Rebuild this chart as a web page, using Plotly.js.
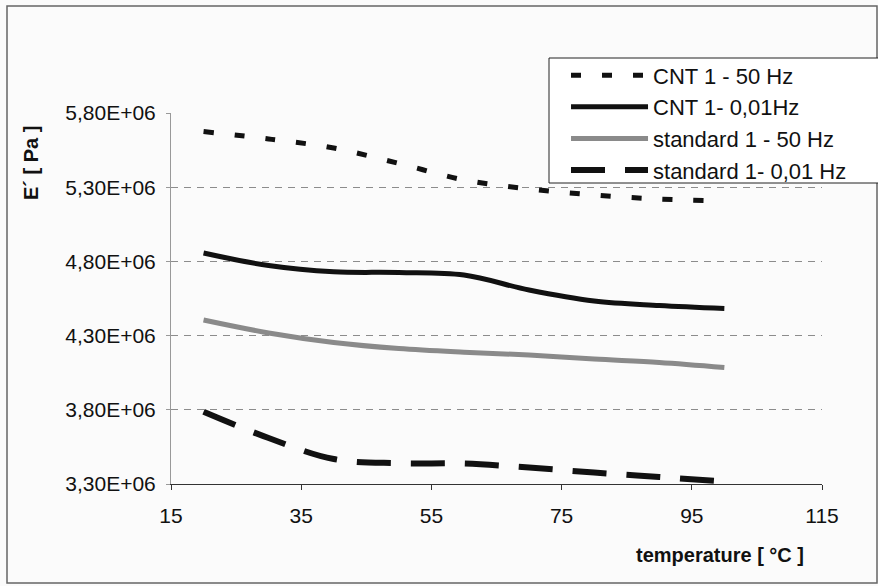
<!DOCTYPE html>
<html>
<head>
<meta charset="utf-8">
<script src="https://cdn.plot.ly/plotly-3.0.1.min.js"></script>
<style>
  html, body { margin: 0; padding: 0; background: #fbfbfb; }
  #chart { width: 878px; height: 586px; }
</style>
</head>
<body>
<div id="chart"></div>
<script>
// ---- data ----
const temperature = [20, 30, 40, 50, 60, 70, 80, 90, 100];
const cnt50Hz   = [5.675e6, 5.625e6, 5.564e6, 5.46e6, 5.349e6, 5.288e6, 5.248e6, 5.22e6, 5.207e6];
const cnt001Hz  = [4.857e6, 4.772e6, 4.73e6, 4.725e6, 4.708e6, 4.607e6, 4.533e6, 4.503e6, 4.483e6];
const std50Hz   = [4.405e6, 4.318e6, 4.254e6, 4.213e6, 4.188e6, 4.169e6, 4.142e6, 4.119e6, 4.085e6];
const std001Hz  = [3.787e6, 3.61e6, 3.468e6, 3.44e6, 3.438e6, 3.411e6, 3.377e6, 3.347e6, 3.317e6];
const seriesNames = ['CNT 1 - 50 Hz', 'CNT 1- 0,01Hz', 'standard 1 - 50 Hz', 'standard 1- 0,01 Hz'];
const xTickVals = [15, 35, 55, 75, 95, 115];
const yTickVals = [3.3e6, 3.8e6, 4.3e6, 4.8e6, 5.3e6, 5.8e6];
const yTickText = ['3,30E+06', '3,80E+06', '4,30E+06', '4,80E+06', '5,30E+06', '5,80E+06'];
const xTitle = 'temperature [ °C ]';
const yTitle = 'E´ [ Pa ]';

const FONT = 'Liberation Sans, Arial, Helvetica, sans-serif';

const traces = [
  { x: temperature, y: cnt50Hz, name: seriesNames[0], mode: 'lines',
    line: { color: '#111', width: 5, dash: '10px,21px', shape: 'spline', smoothing: 1 } },
  { x: temperature, y: cnt001Hz, name: seriesNames[1], mode: 'lines',
    line: { color: '#111', width: 5, shape: 'spline', smoothing: 1 } },
  { x: temperature, y: std50Hz, name: seriesNames[2], mode: 'lines',
    line: { color: '#8a8a8a', width: 5, shape: 'spline', smoothing: 1 } },
  { x: temperature, y: std001Hz, name: seriesNames[3], mode: 'lines',
    line: { color: '#111', width: 6, dash: '34px,20px', shape: 'spline', smoothing: 1 } }
];

const layout = {
  width: 878, height: 586,
  margin: { l: 171, r: 56, t: 113, b: 102 },
  paper_bgcolor: '#fbfbfb',
  plot_bgcolor: '#fbfbfb',
  font: { family: FONT, color: '#111', size: 21 },
  showlegend: true,
  legend: {
    x: 0.6068, xanchor: 'left', y: 1.158, yanchor: 'top',
    bgcolor: 'rgba(0,0,0,0)', borderwidth: 0,
    itemwidth: 77,
    font: { family: FONT, size: 22, color: '#111' },
    tracegroupgap: 0
  },
  xaxis: {
    range: [15, 115], tickvals: xTickVals, ticktext: xTickVals.map(String),
    showgrid: false, zeroline: false,
    showline: true, linecolor: '#333', linewidth: 1,
    ticks: 'outside', ticklen: 5, tickcolor: '#333',
    ticklabelstandoff: 8,
    tickfont: { family: FONT, size: 21, color: '#111' },
    fixedrange: true
  },
  yaxis: {
    range: [3.3e6, 5.8e6], tickvals: yTickVals, ticktext: yTickText,
    showgrid: true, gridcolor: '#8c8c8c', gridwidth: 1, griddash: '7px,6px',
    zeroline: false,
    showline: true, linecolor: '#999', linewidth: 1,
    ticks: 'outside', ticklen: 4, tickcolor: '#999',
    ticklabelstandoff: 6,
    tickfont: { family: FONT, size: 21, color: '#111' },
    fixedrange: true
  },
  annotations: [
    { text: '<b>' + xTitle + '</b>', xref: 'paper', yref: 'paper',
      x: (720 - 171) / 651, y: (484 - 555) / 371, xanchor: 'center', yanchor: 'middle',
      showarrow: false, font: { family: FONT, size: 20, color: '#111' } },
    { text: '<b>' + yTitle + '</b>', xref: 'paper', yref: 'paper', textangle: -90,
      x: (31 - 171) / 651, y: (484 - 163) / 371, xanchor: 'center', yanchor: 'middle',
      showarrow: false, font: { family: FONT, size: 20, color: '#111' } }
  ],
  shapes: [
    // legend box
    { type: 'rect', xref: 'paper', yref: 'paper', layer: 'above',
      x0: (549 - 171) / 651, x1: (895 - 171) / 651,
      y0: (484 - 183) / 371, y1: (484 - 58) / 371,
      fillcolor: '#ffffff', line: { color: '#222', width: 1 } },
    // outer frame of the chart
    { type: 'rect', xref: 'paper', yref: 'paper', layer: 'below',
      x0: (7 - 171) / 651, x1: (877 - 171) / 651,
      y0: (484 - 583) / 371, y1: (484 - 6) / 371,
      line: { color: '#666', width: 1.5 } }
  ]
};

Plotly.newPlot('chart', traces, layout, { staticPlot: true, displayModeBar: false });
</script>
</body>
</html>
